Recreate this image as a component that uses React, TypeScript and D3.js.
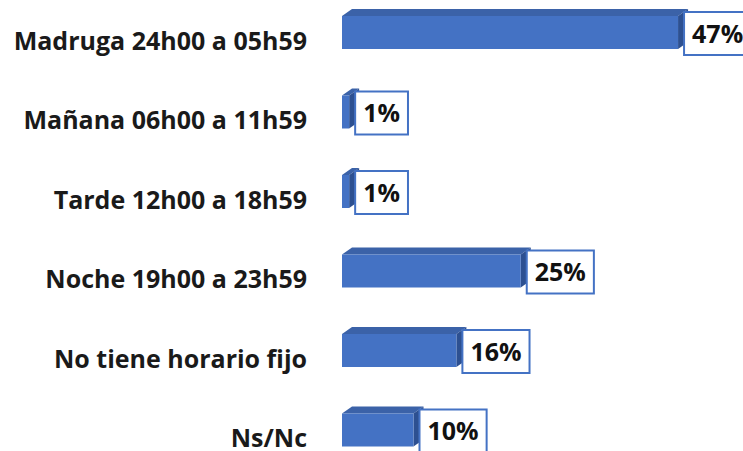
import React, { useEffect, useRef } from "react";
import * as d3 from "d3";

const categories = [
  "Madruga 24h00 a 05h59",
  "Mañana 06h00 a 11h59",
  "Tarde 12h00 a 18h59",
  "Noche 19h00 a 23h59",
  "No tiene horario fijo",
  "Ns/Nc",
];
const values = [47, 1, 1, 25, 16, 10];
const valueLabels = ["47%", "1%", "1%", "25%", "16%", "10%"];

const W = 743;
const H = 451;
const FONT = "'Open Sans', Lato, sans-serif";
const FS = 25;

export default function App() {
  const ref = useRef<SVGSVGElement | null>(null);

  useEffect(() => {
    const svg = d3.select(ref.current);
    svg.selectAll("*").remove();

    const x = d3.scaleLinear().domain([0, 100]).range([342, 342 + 715]);
    const y = d3.scaleBand<string>().domain(categories).range([-7.25, -7.25 + 6 * 79.5]).padding(0);
    const frontH = 33;
    const dx = 10;
    const dy = 7;

    const g = svg.append("g");

    categories.forEach((c, i) => {
      const cy = (y(c) as number) + y.bandwidth() / 2;
      const top = cy - frontH / 2;
      const x0 = x(0);
      const x1 = x(values[i]);

      g.append("path")
        .attr("d", `M${x0},${top} L${x0 + dx},${top - dy} L${x1 + dx},${top - dy} L${x1},${top} Z`)
        .attr("fill", "#3B62A8");
      g.append("path")
        .attr("d", `M${x1},${top} L${x1 + dx},${top - dy} L${x1 + dx},${top + frontH - dy} L${x1},${top + frontH} Z`)
        .attr("fill", "#2D5091");
      g.append("rect")
        .attr("x", x0)
        .attr("y", top)
        .attr("width", Math.max(0, x1 - x0))
        .attr("height", frontH)
        .attr("fill", "#4472C4");

      svg.append("text")
        .attr("x", 307)
        .attr("y", top + 33.5)
        .attr("text-anchor", "end")
        .attr("font-family", FONT)
        .attr("font-weight", "bold")
        .attr("font-size", FS)
        .attr("fill", "#1a1a1a")
        .text(c);

      const bx = x1 + 6;
      const by = top - 4;
      const bh = 43;
      const lg = svg.append("g");
      const rect = lg.append("rect");
      const t = lg.append("text")
        .attr("x", bx + 8)
        .attr("y", by + bh / 2 + 9)
        .attr("font-family", FONT)
        .attr("font-weight", "bold")
        .attr("font-size", FS)
        .attr("fill", "#111")
        .text(valueLabels[i]);
      const tw = (t.node() as SVGTextElement).getComputedTextLength();
      rect
        .attr("x", bx)
        .attr("y", by)
        .attr("width", tw + 16)
        .attr("height", bh)
        .attr("fill", "#fff")
        .attr("stroke", "#4472C4")
        .attr("stroke-width", 2);
    });
  }, []);

  return (
    <svg
      ref={ref}
      width={W}
      height={H}
      style={{ position: "absolute", left: 0, top: 0, background: "#fff" }}
    />
  );
}
